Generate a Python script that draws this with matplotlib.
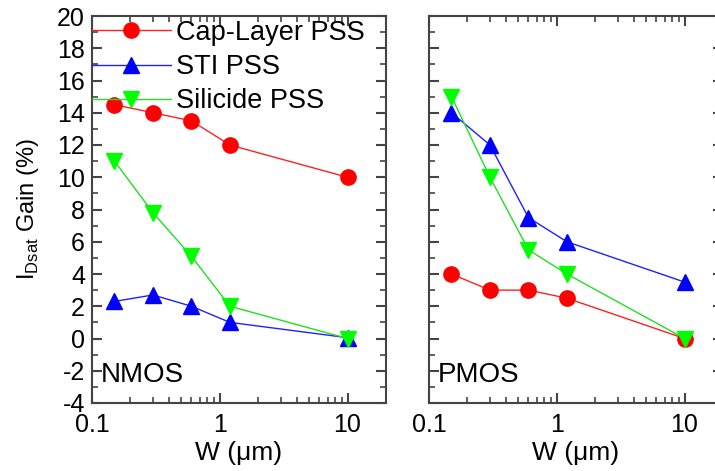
import matplotlib
matplotlib.use("Agg")
import matplotlib.pyplot as plt
from matplotlib.ticker import MultipleLocator, LogLocator, FixedLocator, FixedFormatter, NullFormatter

plt.rcParams['font.family'] = ['Liberation Sans', 'DejaVu Sans']
plt.rcParams['axes.unicode_minus'] = False

W = [0.15, 0.3, 0.6, 1.2, 10]
nmos_cap = [14.5, 14.0, 13.5, 12.0, 10.0]
nmos_sti = [2.3, 2.7, 2.0, 1.0, 0.05]
nmos_sil = [11.0, 7.8, 5.1, 2.0, 0.0]
pmos_cap = [4.0, 3.0, 3.0, 2.5, 0.0]
pmos_sti = [14.0, 12.0, 7.5, 6.0, 3.5]
pmos_sil = [15.0, 10.0, 5.5, 4.0, 0.0]
labels = ["Cap-Layer PSS", "STI PSS", "Silicide PSS"]
xticks = [0.1, 1, 10]
xticklabels = ["0.1", "1", "10"]

FW, FH = 715, 471
fig = plt.figure(figsize=(FW/100, FH/100), dpi=100)

def axrect(x0, x1, y0, y1):
    return [x0/FW, (FH-y1)/FH, (x1-x0)/FW, (y1-y0)/FH]

ax1 = fig.add_axes(axrect(92, 386, 16, 403))
ax2 = fig.add_axes(axrect(429, 723, 16, 403))

spine_col = '#444444'
for ax, cap, sti, sil, name in [(ax1, nmos_cap, nmos_sti, nmos_sil, "NMOS"),
                                (ax2, pmos_cap, pmos_sti, pmos_sil, "PMOS")]:
    ax.plot(W, cap, color='#ff2020', lw=1.0, marker='o', ms=11,
            mfc='#ff0000', mec='#ff0000', label=labels[0])
    ax.plot(W, sti, color='#2020ff', lw=1.0, marker='^', ms=12,
            mfc='#0000ff', mec='#0000ff', label=labels[1])
    ax.plot(W, sil, color='#20e020', lw=1.0, marker='v', ms=12,
            mfc='#00ff00', mec='#00ff00', label=labels[2])
    ax.set_xscale('log')
    ax.set_xlim(0.1, 20)
    ax.set_ylim(-4, 20)
    ax.yaxis.set_major_locator(MultipleLocator(2))
    ax.yaxis.set_minor_locator(MultipleLocator(1))
    ax.xaxis.set_major_locator(FixedLocator(xticks))
    ax.xaxis.set_major_formatter(FixedFormatter(xticklabels))
    ax.xaxis.set_minor_locator(LogLocator(base=10, subs=range(2, 10)))
    ax.xaxis.set_minor_formatter(NullFormatter())
    ax.tick_params(which='both', direction='in', top=True, right=True,
                   color=spine_col, labelsize=18)
    ax.tick_params(which='major', length=7, width=1.5)
    ax.tick_params(which='minor', length=4, width=1.2)
    ax.tick_params(axis='x', pad=7)
    ax.tick_params(axis='y', pad=5)
    for s in ax.spines.values():
        s.set_color(spine_col)
        s.set_linewidth(1.5)
    ax.text(0.03, 0.04, name, transform=ax.transAxes, fontsize=20,
            ha='left', va='bottom')
    ax.set_xlabel("W (μm)", fontsize=19, labelpad=3)

ax2.tick_params(axis='y', labelleft=False)
ax1.set_ylabel("I$_{\\mathregular{Dsat}}$ Gain (%)", fontsize=17, labelpad=12)

ax1.legend(loc='upper left', bbox_to_anchor=(0.0, 0.99), frameon=False,
           fontsize=19.5, handlelength=2.9, handletextpad=0.2,
           borderpad=0.0, borderaxespad=0.0, labelspacing=0.3)

fig.savefig("out.png", dpi=100)
